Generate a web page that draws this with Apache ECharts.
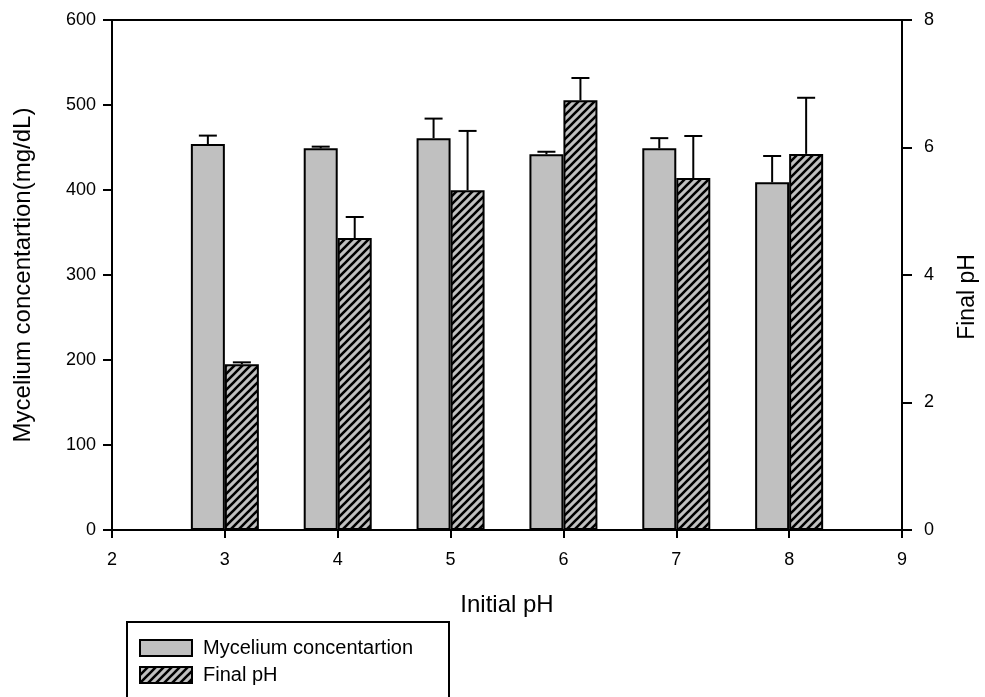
<!DOCTYPE html>
<html>
<head>
<meta charset="utf-8">
<script src="https://cdn.jsdelivr.net/npm/echarts@6/dist/echarts.min.js"></script>
<style>
  html, body { margin: 0; padding: 0; background: #fff; }
  #chart { width: 985px; height: 697px; }
</style>
</head>
<body>
<div id="chart"></div>
<script>
// Initial pH of the medium (x positions of the bar pairs)
const initialPH = [3, 4, 5, 6, 7, 8];
// Mycelium concentration (mg/dL): mean and upper error
const myceliumMean = [454, 449, 461, 442, 449, 409];
const myceliumErr = [10, 2, 23, 3, 12, 31];
// Final pH after cultivation: mean and upper error
const finalPHMean = [2.6, 4.58, 5.33, 6.74, 5.52, 5.90];
const finalPHErr = [0.03, 0.33, 0.93, 0.35, 0.66, 0.88];
// Axis ticks
const xTicks = [2, 3, 4, 5, 6, 7, 8, 9];
const leftTicks = [0, 100, 200, 300, 400, 500, 600];
const rightTicks = [0, 2, 4, 6, 8];

const FONT = '"Liberation Sans", Arial, sans-serif';
const GREY = '#c0c0c0';
const BAR_W = 34;

// Diagonal hatch pattern for the Final pH bars
function hatchPattern() {
  const s = 8;
  const c = document.createElement('canvas');
  c.width = s; c.height = s;
  const g = c.getContext('2d');
  g.fillStyle = GREY;
  g.fillRect(0, 0, s, s);
  g.strokeStyle = '#000';
  g.lineWidth = 2.6;
  g.beginPath();
  g.moveTo(-1, s + 1); g.lineTo(s + 1, -1);
  g.moveTo(-s / 2 - 1, s / 2 + 1); g.lineTo(s / 2 + 1, -s / 2 - 1);
  g.moveTo(s / 2 - 1, s * 1.5 + 1); g.lineTo(s * 1.5 + 1, s / 2 - 1);
  g.stroke();
  return { image: c, repeat: 'repeat' };
}

function errorBars(offset) {
  return function (params, api) {
    const x = api.value(0), m = api.value(1), e = api.value(2);
    const base = api.coord([x, m]);
    const top = api.coord([x, m + e]);
    const cx = base[0] + offset;
    const st = { stroke: '#000', lineWidth: 2 };
    return {
      type: 'group',
      children: [
        { type: 'line', shape: { x1: cx, y1: base[1], x2: cx, y2: top[1] }, style: st },
        { type: 'line', shape: { x1: cx - 9, y1: top[1], x2: cx + 9, y2: top[1] }, style: st }
      ]
    };
  };
}

const chart = echarts.init(document.getElementById('chart'), null, { renderer: 'canvas' });

const hatch = hatchPattern();

chart.setOption({
  animation: false,
  textStyle: { fontFamily: FONT },
  grid: {
    left: 112, right: 83, top: 20, bottom: 167,
    outerBoundsMode: 'none',
    containLabel: false,
    show: true, borderColor: '#000', borderWidth: 2
  },
  // Frame around the legend, running off the bottom edge
  graphic: [{
    type: 'rect',
    left: 126, top: 621,
    shape: { width: 322, height: 100 },
    style: { fill: '#fff', stroke: '#000', lineWidth: 2 },
    z: 0
  }],
  legend: {
    orient: 'vertical',
    left: 139, top: 638,
    padding: 0,
    itemWidth: 52, itemHeight: 16, itemGap: 7,
    icon: 'rect',
    textStyle: { fontFamily: FONT, fontSize: 20, color: '#000', padding: [0, 0, 0, 6] },
    data: ['Mycelium concentartion', 'Final pH']
  },
  xAxis: {
    type: 'value',
    min: xTicks[0], max: xTicks[xTicks.length - 1], interval: 1,
    name: 'Initial pH',
    nameLocation: 'middle', nameGap: 63,
    nameTextStyle: { fontFamily: FONT, fontSize: 24, color: '#000' },
    axisLine: { show: true, lineStyle: { color: '#000', width: 2 } },
    axisTick: { show: true, length: 8, lineStyle: { color: '#000', width: 2 } },
    axisLabel: { fontFamily: FONT, fontSize: 18, color: '#000', margin: 21 },
    splitLine: { show: false }
  },
  yAxis: [
    {
      type: 'value',
      min: leftTicks[0], max: leftTicks[leftTicks.length - 1], interval: 100,
      name: 'Mycelium concentartion(mg/dL)',
      nameLocation: 'middle', nameGap: 77, nameRotate: 90,
      nameTextStyle: { fontFamily: FONT, fontSize: 24, color: '#000' },
      axisLine: { show: true, lineStyle: { color: '#000', width: 2 } },
      axisTick: { show: true, length: 9, lineStyle: { color: '#000', width: 2 } },
      axisLabel: { fontFamily: FONT, fontSize: 18, color: '#000', margin: 16 },
      splitLine: { show: false }
    },
    {
      type: 'value',
      position: 'right',
      min: rightTicks[0], max: rightTicks[rightTicks.length - 1], interval: 2,
      name: 'Final pH',
      nameLocation: 'middle', nameGap: 54, nameRotate: 90,
      nameTextStyle: { fontFamily: FONT, fontSize: 23, color: '#000', padding: [0, 44, 0, 0] },
      axisLine: { show: true, lineStyle: { color: '#000', width: 2 } },
      axisTick: { show: true, length: 10, lineStyle: { color: '#000', width: 2 } },
      axisLabel: { fontFamily: FONT, fontSize: 18, color: '#000', margin: 22 },
      splitLine: { show: false }
    }
  ],
  series: [
    {
      name: 'Mycelium concentartion',
      type: 'bar',
      yAxisIndex: 0,
      barWidth: BAR_W,
      barGap: '0%',
      itemStyle: { color: GREY, borderColor: '#000', borderWidth: 2 },
      data: initialPH.map((x, i) => [x, myceliumMean[i]])
    },
    {
      name: 'Final pH',
      type: 'bar',
      yAxisIndex: 1,
      barWidth: BAR_W,
      barGap: '0%',
      itemStyle: { color: hatch, borderColor: '#000', borderWidth: 2 },
      data: initialPH.map((x, i) => [x, finalPHMean[i]])
    },
    {
      type: 'custom',
      yAxisIndex: 0,
      z: 5,
      renderItem: errorBars(-BAR_W / 2),
      encode: { x: 0, y: 1 },
      data: initialPH.map((x, i) => [x, myceliumMean[i], myceliumErr[i]])
    },
    {
      type: 'custom',
      yAxisIndex: 1,
      z: 5,
      renderItem: errorBars(BAR_W / 2),
      encode: { x: 0, y: 1 },
      data: initialPH.map((x, i) => [x, finalPHMean[i], finalPHErr[i]])
    }
  ]
});
</script>
</body>
</html>
